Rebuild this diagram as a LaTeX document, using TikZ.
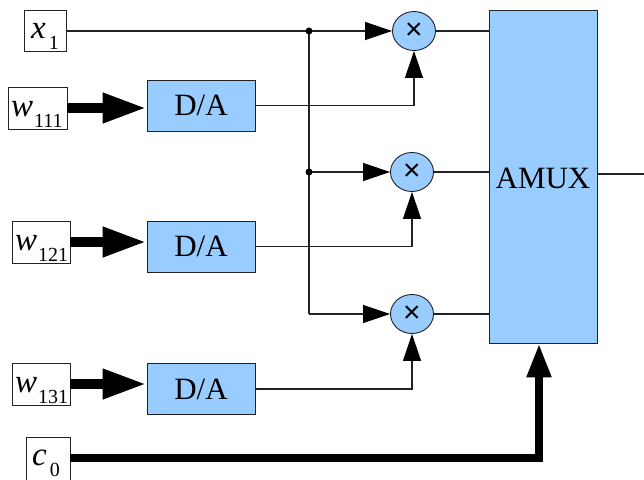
\documentclass[tikz,border=0pt]{standalone}
\usepackage{fontspec}
\setmainfont{Liberation Serif}
\newfontfamily\symfont{Liberation Sans}
\usetikzlibrary{arrows.meta}
\definecolor{boxblue}{HTML}{99CCFF}
\definecolor{linegray}{HTML}{222222}
\newcommand\sublbl[3]{\fontsize{33}{33}\selectfont\textit{#1}\kern#3\raisebox{-11pt}{\fontsize{20}{20}\selectfont #2}}
\tikzset{
  inbox/.style={draw=linegray, line width=0.9pt, rectangle, inner sep=0pt},
  dabox/.style={draw=linegray, line width=0.9pt, fill=boxblue, rectangle, inner sep=0pt, minimum width=108pt, minimum height=51pt, font=\fontsize{31}{31}\selectfont},
  mult/.style={draw=linegray, line width=0.9pt, fill=boxblue, ellipse, inner sep=0pt, minimum width=43pt, minimum height=39pt, font=\symfont\fontsize{30}{30}\selectfont},
  wire/.style={draw=linegray, line width=1.2pt},
  thinarrow/.style={wire, -{Triangle[length=27pt,width=18pt,color=black]}},
  fatarrow/.style={draw=black, line width=10pt, -{Triangle[length=44pt,width=28pt]}},
  carrow/.style={draw=black, line width=8pt, -{Triangle[length=34pt,width=23pt]}},
  lbl/.style={inner sep=0pt, anchor=base west},
  dot/.style={circle, fill=black, inner sep=0pt, minimum size=7pt}
}
\usetikzlibrary{shapes.geometric}
\begin{document}
\begin{tikzpicture}[x=1pt,y=-1pt]
\clip (0,0) rectangle (644,479);
\useasboundingbox (0,0) rectangle (644,479);
% input boxes
\node[inbox, minimum width=42pt, minimum height=41pt] (x1) at (45,30.5) {};
\node[inbox, minimum width=59pt, minimum height=42pt] (w1) at (37.5,108) {};
\node[inbox, minimum width=58pt, minimum height=42pt] (w2) at (41,242) {};
\node[inbox, minimum width=58pt, minimum height=42pt] (w3) at (41,384) {};
\node[inbox, minimum width=44pt, minimum height=62pt] (c0) at (48,468) {};
\node[lbl] (lx1) at (31,38) {\sublbl{x}{1}{3pt}};
\node[lbl] (lw1) at (11,116) {\sublbl{w}{111}{1pt}};
\node[lbl] (lw2) at (15,250) {\sublbl{w}{121}{1pt}};
\node[lbl] (lw3) at (15,392) {\sublbl{w}{131}{1pt}};
\node[lbl] (lc0) at (32,465) {\sublbl{c}{0}{3pt}};
% D/A converters
\node[dabox] (da1) at (201,105.5) {D/A};
\node[dabox] (da2) at (201,246.5) {D/A};
\node[dabox] (da3) at (201,389) {D/A};
% multipliers
\node[mult] (m1) at (414,31) {×};
\node[mult] (m2) at (412,172) {×};
\node[mult] (m3) at (412,314) {×};
% AMUX
\node[dabox, minimum height=333pt] (amux) at (543,176.5) {};
\node[inner sep=0pt, font=\fontsize{31}{31}\selectfont] (amuxt) at (543,178) {AMUX};
% junctions
\coordinate (j1) at (309,31);
\coordinate (j2) at (309,172);
\coordinate (j3) at (309,314);
\coordinate (out) at (644,174);
\coordinate (cc) at (539,458);
% wiring
\draw[wire] (x1.east |- j1) -- (j1);
\draw[wire] (j1) -- (j3);
\draw[thinarrow] (j1) -- (m1.west);
\draw[thinarrow] (j2) -- (m2.west);
\draw[thinarrow] (j3) -- (m3.west);
\node[dot] (d1) at (j1) {};
\node[dot] (d2) at (j2) {};
\draw[thinarrow] (da1.east) -| (m1.south);
\draw[thinarrow] (da2.east) -| (m2.south);
\draw[thinarrow] (da3.east) -| (m3.south);
\draw[wire] (m1.east) -- (m1.east -| amux.west);
\draw[wire] (m2.east) -- (m2.east -| amux.west);
\draw[wire] (m3.east) -- (m3.east -| amux.west);
\draw[wire] (amux.east |- out) -- (out);
% thick buses
\draw[fatarrow] (w1.east) -- (w1.east -| da1.west);
\draw[fatarrow] (w2.east) -- (w2.east -| da2.west);
\draw[fatarrow] (w3.east) -- (w3.east -| da3.west);
\draw[carrow] (c0.east |- cc) -- (cc) -- (cc |- amux.south);
\end{tikzpicture}
\end{document}
